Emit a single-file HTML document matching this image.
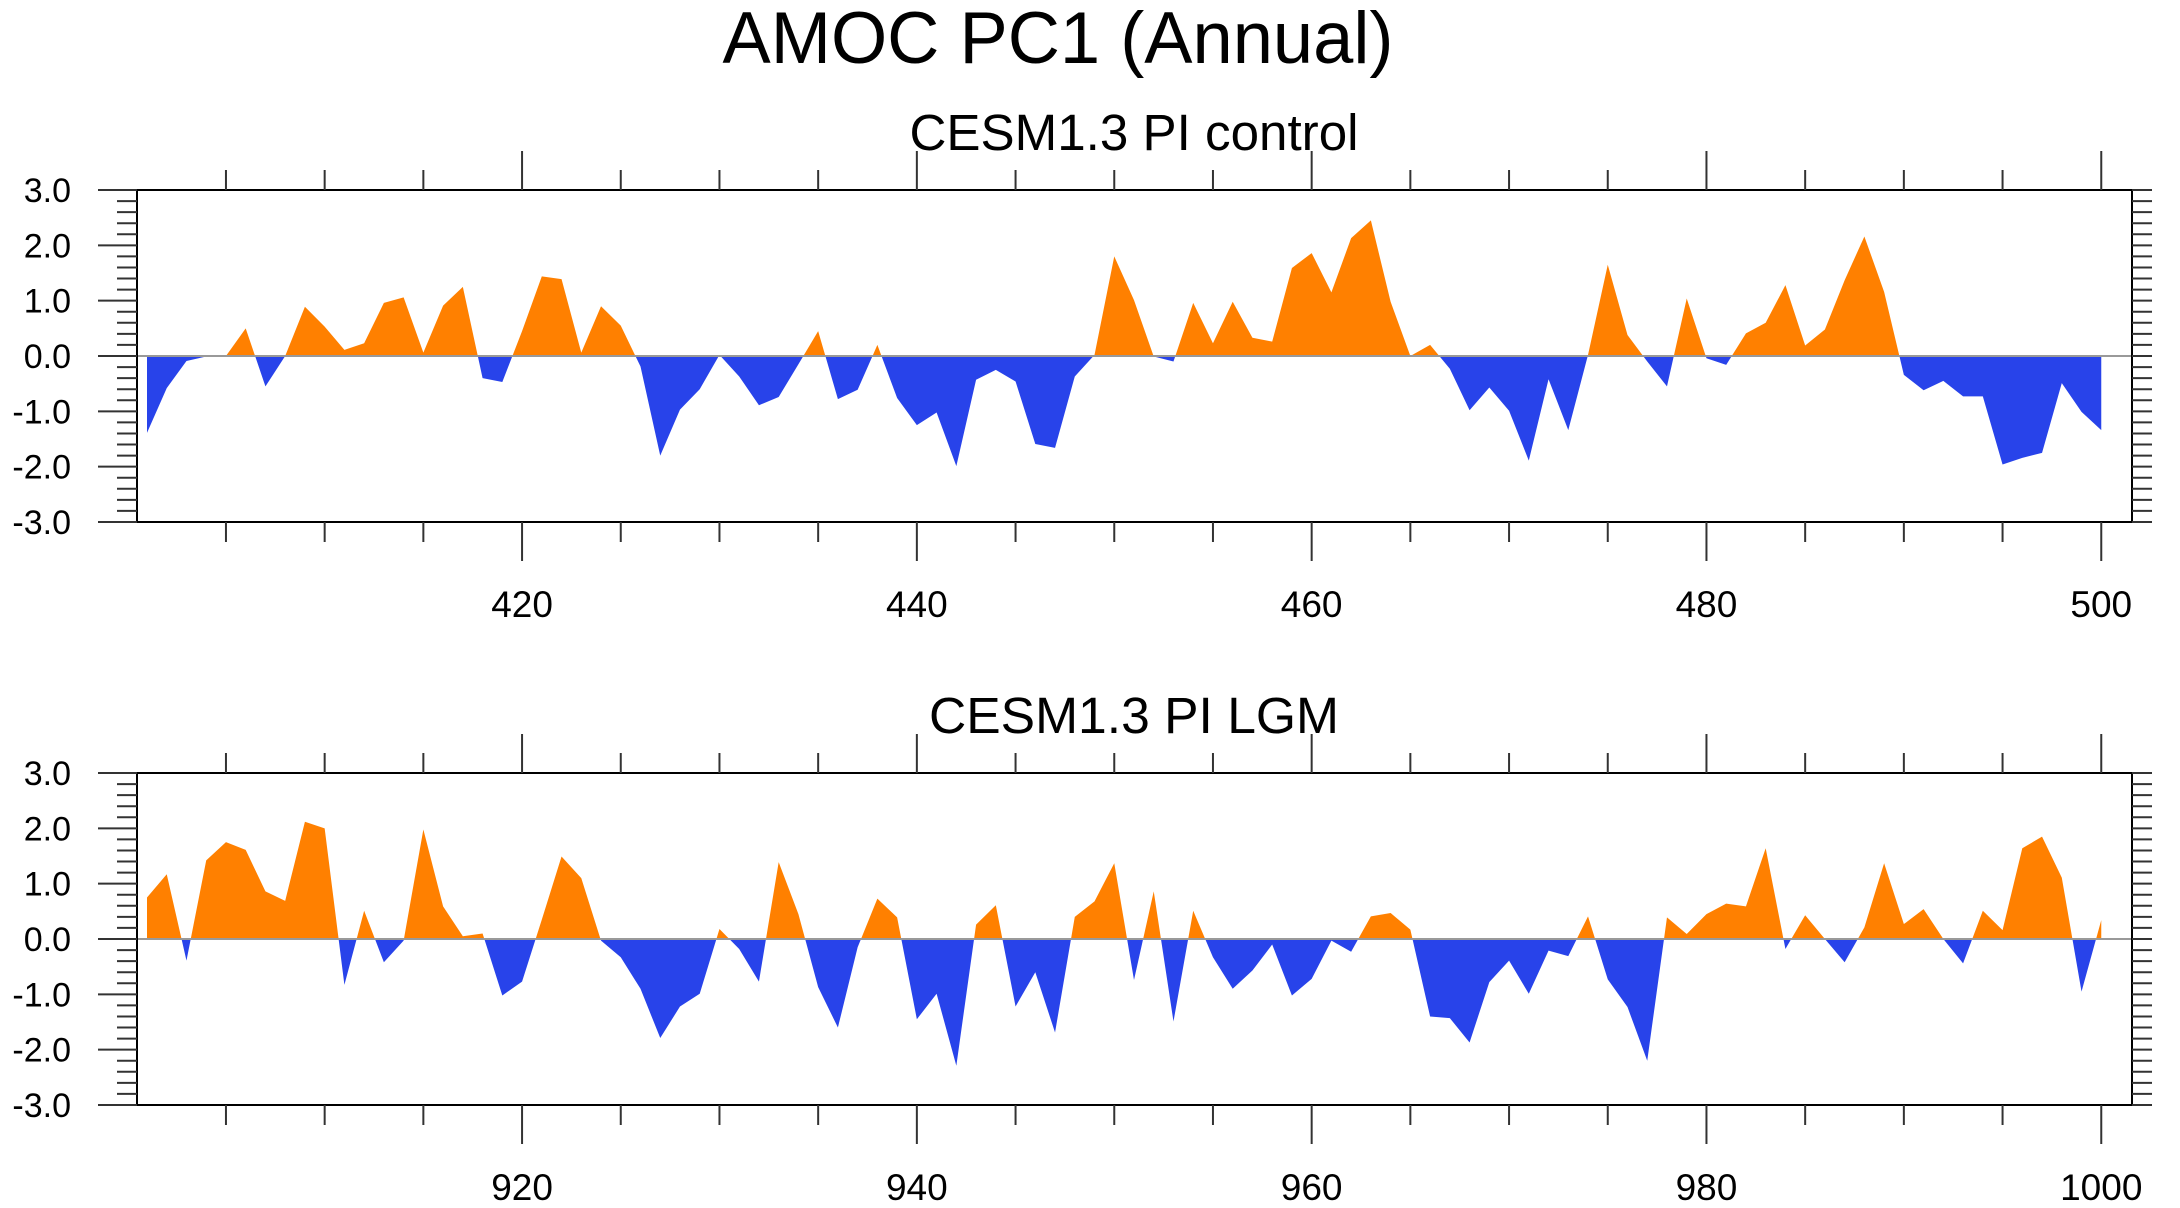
<!DOCTYPE html>
<html><head><meta charset="utf-8"><style>
html,body{margin:0;padding:0;background:#fff;}
svg{display:block;font-family:"Liberation Sans",sans-serif;}
</style></head><body>
<svg id="chart" width="2180" height="1208" viewBox="0 0 2180 1208">
<text x="1058" y="63" font-size="73" text-anchor="middle" textLength="671" lengthAdjust="spacingAndGlyphs">AMOC PC1 (Annual)</text>
</svg>
<script>
const years1Start = 401;
const years2Start = 901;
const pcControl = [-1.39,-0.58,-0.09,-0.01,0,0.5,-0.55,0.0,0.89,0.53,0.11,0.23,0.96,1.06,0.06,0.91,1.25,-0.4,-0.47,0.45,1.44,1.39,0.06,0.9,0.55,-0.19,-1.8,-0.97,-0.6,0.02,-0.37,-0.89,-0.74,-0.15,0.45,-0.78,-0.61,0.2,-0.76,-1.25,-1.02,-1.99,-0.43,-0.25,-0.46,-1.59,-1.66,-0.37,0.02,1.8,1.01,-0.01,-0.1,0.96,0.23,0.98,0.33,0.26,1.59,1.86,1.15,2.13,2.45,0.98,0.0,0.2,-0.23,-0.98,-0.57,-0.99,-1.89,-0.42,-1.34,0.02,1.65,0.38,-0.1,-0.55,1.04,-0.04,-0.16,0.41,0.6,1.28,0.19,0.48,1.37,2.16,1.16,-0.34,-0.62,-0.45,-0.73,-0.73,-1.96,-1.84,-1.75,-0.49,-1.01,-1.34];
const pcLGM = [0.75,1.17,-0.39,1.42,1.75,1.61,0.86,0.69,2.12,2.0,-0.83,0.51,-0.42,-0.03,1.98,0.59,0.05,0.1,-1.02,-0.77,0.35,1.49,1.1,-0.03,-0.33,-0.9,-1.79,-1.22,-0.99,0.18,-0.18,-0.77,1.39,0.45,-0.87,-1.6,-0.15,0.73,0.39,-1.45,-0.99,-2.29,0.26,0.61,-1.22,-0.6,-1.69,0.4,0.68,1.37,-0.74,0.86,-1.49,0.51,-0.33,-0.9,-0.57,-0.1,-1.02,-0.72,-0.03,-0.23,0.41,0.47,0.17,-1.4,-1.43,-1.87,-0.78,-0.39,-0.99,-0.21,-0.31,0.41,-0.73,-1.23,-2.2,0.39,0.09,0.45,0.64,0.59,1.64,-0.18,0.43,0.0,-0.42,0.21,1.37,0.27,0.54,0.0,-0.44,0.51,0.16,1.64,1.85,1.11,-0.95,0.34];
const yTickLabels = ["3.0","2.0","1.0","0.0","-1.0","-2.0","-3.0"];
const xLabels1 = [420,440,460,480,500];
const xLabels2 = [920,940,960,980,1000];
const subtitles = ["CESM1.3 PI control","CESM1.3 PI LGM"];

const NS = "http://www.w3.org/2000/svg";
const svg = document.getElementById('chart');
function mk(tag, attrs, parent){const e=document.createElementNS(NS,tag);for(const k in attrs)e.setAttribute(k,attrs[k]);(parent||svg).appendChild(e);return e;}

function panel(idx, top, startYear, vals, labels, subtitle){
  const L=137, R=2132, B=top+332;
  const xs = y => 147 + (y - startYear) * 19.74;
  const ys = v => (top+B)/2 - v * (332/6);
  const g = mk('g',{});
  
  
  const st = mk('text',{x:1134,y:top-40,'font-size':51,'text-anchor':'middle',textLength:subtitle.length>16?449:410,lengthAdjust:'spacingAndGlyphs'},g);
  st.textContent = subtitle;
  
  
  const y0 = ys(0);
  let pts = xs(startYear)+','+y0+' ';
  vals.forEach((v,i)=>{pts += xs(startYear+i)+','+ys(v)+' ';});
  pts += xs(startYear+vals.length-1)+','+y0;
  const cpA = mk('clipPath',{id:'ca'+idx},g); mk('rect',{x:0,y:0,width:2180,height:y0},cpA);
  const cpB = mk('clipPath',{id:'cb'+idx},g); mk('rect',{x:0,y:y0,width:2180,height:1208},cpB);
  const pos = mk('polygon',{points:pts,fill:'#FF8000','clip-path':'url(#ca'+idx+')'},g);
  
  
  const neg = mk('polygon',{points:pts,fill:'#2843EA','clip-path':'url(#cb'+idx+')'},g);
  
  
  const zl = mk('line',{x1:L,x2:R,y1:y0,y2:y0,stroke:'#999','stroke-width':2},g);
  
  
  const box = mk('rect',{x:L,y:top,width:R-L,height:332,fill:'none',stroke:'#000','stroke-width':2},g);
  
  
  for(let k=0;k<=30;k++){
    const v = 3 - k*0.2; const yy = ys(v); const major = k%5===0;
    const len = major?39:20;
    mk('line',{x1:L-len,x2:L,y1:yy,y2:yy,stroke:'#333','stroke-width':2},g);
    mk('line',{x1:R,x2:R+20,y1:yy,y2:yy,stroke:'#333','stroke-width':2},g);
  }
  yTickLabels.forEach((t,i)=>{
    const tx = mk('text',{x:71,y:ys(3-i)+12,'font-size':34,'text-anchor':'end'},g);
    tx.textContent = t;
    
    
  });
  for(let yr=startYear-1+5; yr<=startYear+99; yr+=5){
    const xx = xs(yr); const major = (yr%20===0);
    const len = major?39:20;
    mk('line',{x1:xx,x2:xx,y1:top-len,y2:top,stroke:'#333','stroke-width':2},g);
    mk('line',{x1:xx,x2:xx,y1:B,y2:B+len,stroke:'#333','stroke-width':2},g);
  }
  labels.forEach(yr=>{
    const tx = mk('text',{x:xs(yr),y:B+95,'font-size':37,'text-anchor':'middle'},g);
    tx.textContent = yr;
    
    
  });
}
panel(0,190,years1Start,pcControl,xLabels1,subtitles[0]);
panel(1,773,years2Start,pcLGM,xLabels2,subtitles[1]);
</script>
</body></html>
